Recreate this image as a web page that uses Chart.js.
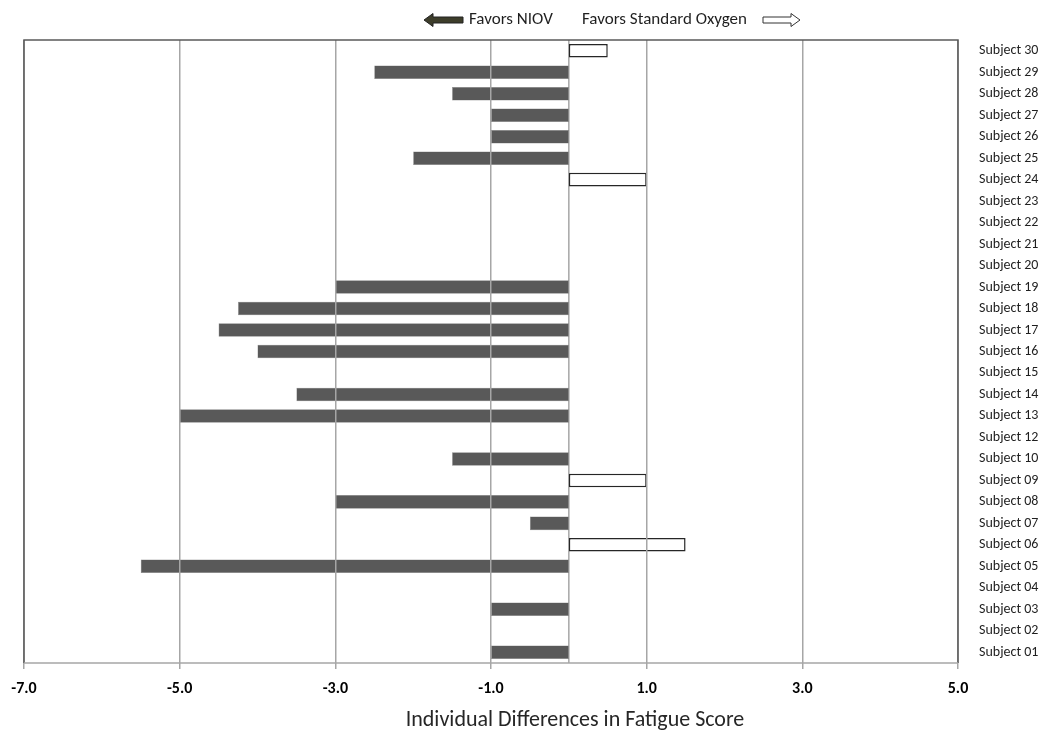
<!DOCTYPE html>
<html>
<head>
<meta charset="utf-8">
<script src="https://cdn.jsdelivr.net/npm/chart.js@4.4.0/dist/chart.umd.min.js"></script>
<style>
  html, body { margin: 0; padding: 0; background: #fff; }
  #wrap { width: 1039px; height: 733px; }
</style>
</head>
<body>
<div id="wrap"><canvas id="mycanvas" width="1039" height="733"></canvas></div>
<script>
// subjects listed top to bottom, as in the figure (no Subject 11)
var subjects = ['Subject 30','Subject 29','Subject 28','Subject 27','Subject 26','Subject 25',
  'Subject 24','Subject 23','Subject 22','Subject 21','Subject 20','Subject 19','Subject 18',
  'Subject 17','Subject 16','Subject 15','Subject 14','Subject 13','Subject 12','Subject 10',
  'Subject 09','Subject 08','Subject 07','Subject 06','Subject 05','Subject 04','Subject 03',
  'Subject 02','Subject 01'];
var differences = [0.5,-2.5,-1.5,-1,-1,-2,
  1,0,0,0,0,-3,-4.25,
  -4.5,-4,0,-3.5,-5,0,-1.5,
  1,-3,-0.5,1.5,-5.5,0,-1,
  0,-1];
var xTicks = [-7,-5,-3,-1,1,3,5];

var FONT = "Calibri, Carlito, Lato, 'Open Sans', sans-serif";

// draws the arrow legend on top, the zero line, frame and axis title
var extras = {
  id: 'extras',
  beforeDatasetsDraw: function(chart) {
    var c = chart.ctx, a = chart.chartArea, x0 = chart.scales.x.getPixelForValue(0);
    c.save();
    c.strokeStyle = '#a6a6a6';
    c.lineWidth = 1.5;
    c.beginPath();
    c.moveTo(x0, a.top);
    c.lineTo(x0, a.bottom);
    c.stroke();
    c.restore();
  },
  afterDraw: function(chart) {
    var c = chart.ctx, a = chart.chartArea;
    c.save();
    // frame
    c.strokeStyle = '#595959';
    c.lineWidth = 1.5;
    c.beginPath();
    c.moveTo(a.left, a.bottom);
    c.lineTo(a.left, a.top);
    c.lineTo(a.right, a.top);
    c.lineTo(a.right, a.bottom);
    c.stroke();
    c.strokeStyle = '#a6a6a6';
    c.beginPath();
    c.moveTo(a.left, a.bottom);
    c.lineTo(a.right, a.bottom);
    c.stroke();

    // axis title
    c.font = '22px ' + FONT;
    c.fillStyle = '#262626';
    c.textAlign = 'center';
    c.textBaseline = 'middle';
    c.fillText('Individual Differences in Fatigue Score', 575, 720);

    // legend
    var y = 20;
    c.font = '17px ' + FONT;
    c.fillStyle = '#1f1f1f';
    c.textAlign = 'left';
    c.fillText('Favors NIOV', 469, y);
    c.fillText('Favors Standard Oxygen', 582, y);

    // left arrow (dark)
    c.beginPath();
    c.moveTo(424, y);
    c.lineTo(433, y - 6.5);
    c.lineTo(433, y - 3);
    c.lineTo(463, y - 3);
    c.lineTo(463, y + 3);
    c.lineTo(433, y + 3);
    c.lineTo(433, y + 6.5);
    c.closePath();
    c.fillStyle = '#3d3d2a';
    c.fill();
    c.strokeStyle = '#222';
    c.lineWidth = 1;
    c.stroke();

    // right arrow (hollow)
    c.beginPath();
    c.moveTo(800, y);
    c.lineTo(791, y - 6.5);
    c.lineTo(791, y - 3);
    c.lineTo(763, y - 3);
    c.lineTo(763, y + 3);
    c.lineTo(791, y + 3);
    c.lineTo(791, y + 6.5);
    c.closePath();
    c.fillStyle = '#fff';
    c.fill();
    c.strokeStyle = '#333';
    c.stroke();
    c.restore();
  }
};

var ctx = document.getElementById('mycanvas');
var chart = new Chart(ctx, {
  type: 'bar',
  data: {
    labels: subjects,
    datasets: [{
      label: 'Difference',
      data: differences,
      backgroundColor: function(c) { return c.raw > 0 ? '#ffffff' : '#595959'; },
      borderColor: function(c) { return c.raw > 0 ? '#262626' : '#7f7f7f'; },
      borderWidth: function(c) { return c.raw > 0 ? 1.5 : 0.5; },
      borderSkipped: false,
      barPercentage: 0.63,
      categoryPercentage: 1.0
    }]
  },
  plugins: [extras],
  options: {
    indexAxis: 'y',
    responsive: false,
    animation: false,
    layout: { padding: { left: 24, right: 0, top: 40, bottom: 0 } },
    plugins: {
      legend: { display: false },
      tooltip: { enabled: false }
    },
    scales: {
      x: {
        min: -7,
        max: 5,
        afterBuildTicks: function(s) {
          s.ticks = xTicks.map(function(v) { return { value: v }; });
        },
        afterFit: function(s) { s.height = 70; },
        grid: {
          color: '#a6a6a6',
          lineWidth: 1.5,
          drawTicks: true,
          tickLength: 6,
          z: 1
        },
        border: { display: false },
        ticks: {
          color: '#000',
          font: { family: FONT, size: 16, weight: 'bold' },
          padding: 10,
          maxRotation: 0,
          callback: function(v) { return Number(v).toFixed(1); }
        }
      },
      y: {
        position: 'right',
        grid: { display: false },
        border: { display: false },
        afterFit: function(s) { s.width = 81; },
        ticks: {
          color: '#1f1f1f',
          font: { family: FONT, size: 14 },
          padding: 13,
          autoSkip: false
        }
      }
    }
  }
});
</script>
</body>
</html>
